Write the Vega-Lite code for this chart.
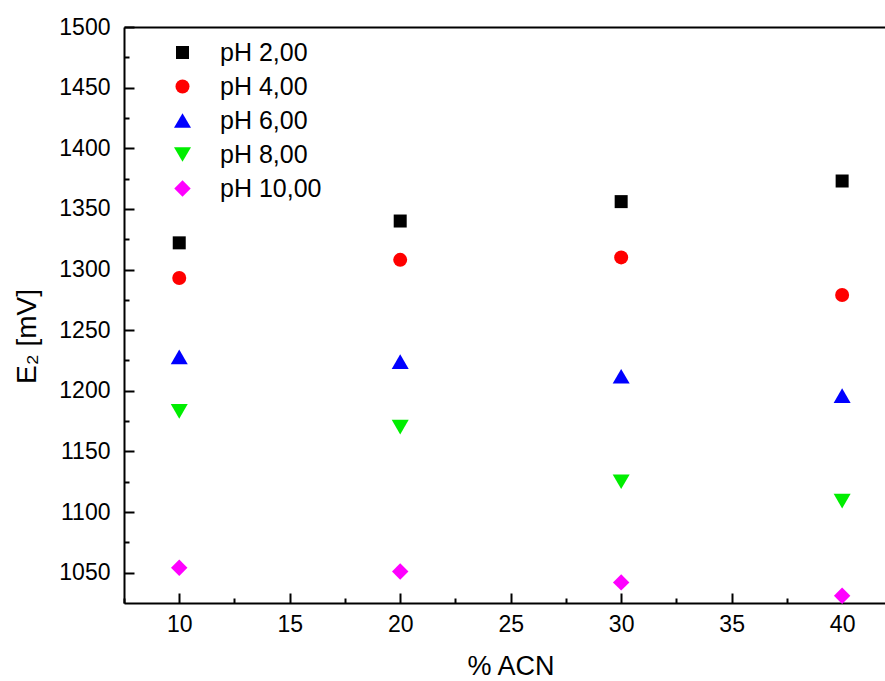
{
  "$schema": "https://vega.github.io/schema/vega-lite/v6.json",
  "width": 761,
  "height": 576,
  "autosize": {"type": "none"},
  "padding": {"left": 124, "top": 27, "right": 0, "bottom": 78},
  "config": {
    "font": "Liberation Sans",
    "view": {"stroke": null},
    "axis": {
      "domainColor": "black", "tickColor": "black", "labelColor": "black", "titleColor": "black",
      "labelFont": "Liberation Sans", "titleFont": "Liberation Sans", "grid": false,
      "labelFontSize": 23, "titleFontSize": 27, "titleFontWeight": "normal",
      "domainWidth": 2, "tickWidth": 2
    },
    "legend": {"labelFont": "Liberation Sans", "labelFontSize": 25, "labelColor": "black"}
  },
  "data": {"values": [
    {"acn": 10, "ph": "pH 2,00", "e2": 1322}, {"acn": 20, "ph": "pH 2,00", "e2": 1340}, {"acn": 30, "ph": "pH 2,00", "e2": 1356}, {"acn": 40, "ph": "pH 2,00", "e2": 1373},
    {"acn": 10, "ph": "pH 4,00", "e2": 1293}, {"acn": 20, "ph": "pH 4,00", "e2": 1308}, {"acn": 30, "ph": "pH 4,00", "e2": 1310}, {"acn": 40, "ph": "pH 4,00", "e2": 1279},
    {"acn": 10, "ph": "pH 6,00", "e2": 1228}, {"acn": 20, "ph": "pH 6,00", "e2": 1224}, {"acn": 30, "ph": "pH 6,00", "e2": 1212}, {"acn": 40, "ph": "pH 6,00", "e2": 1196},
    {"acn": 10, "ph": "pH 8,00", "e2": 1183}, {"acn": 20, "ph": "pH 8,00", "e2": 1170}, {"acn": 30, "ph": "pH 8,00", "e2": 1125}, {"acn": 40, "ph": "pH 8,00", "e2": 1109},
    {"acn": 10, "ph": "pH 10,00", "e2": 1054}, {"acn": 20, "ph": "pH 10,00", "e2": 1051}, {"acn": 30, "ph": "pH 10,00", "e2": 1042}, {"acn": 40, "ph": "pH 10,00", "e2": 1031}
  ]},
  "layer": [
    {
      "mark": {"type": "point", "filled": true, "opacity": 1},
      "encoding": {
        "x": {"field": "acn", "type": "quantitative", "scale": {"domain": [7.5, 41.94], "nice": false, "zero": false},
              "axis": {"orient": "bottom", "values": [10, 15, 20, 25, 30, 35, 40], "ticks": false, "labelPadding": 10, "title": "% ACN", "titleX": 386.5, "titleY": 71, "titleBaseline": "alphabetic", "titleAlign": "center"}},
        "y": {"field": "e2", "type": "quantitative", "scale": {"domain": [1025, 1500], "nice": false, "zero": false},
              "axis": {"orient": "left", "values": [1050, 1100, 1150, 1200, 1250, 1300, 1350, 1400, 1450, 1500], "format": "d", "ticks": false, "labelPadding": 14, "title": "E₂ [mV]", "titleFontSize": 28, "titleAngle": -90, "titleX": -97, "titleY": 309, "titleAlign": "center", "titleBaseline": "middle"}},
        "color": {"field": "ph", "type": "nominal",
                  "scale": {"domain": ["pH 2,00", "pH 4,00", "pH 6,00", "pH 8,00", "pH 10,00"], "range": ["#000000", "#ff0000", "#0000ff", "#00ee00", "#ff00ff"]},
                  "legend": {"title": null, "orient": "none", "legendX": 46, "legendY": 13, "padding": 0, "rowPadding": 8, "labelOffset": 25, "symbolStrokeWidth": 0}},
        "shape": {"field": "ph", "type": "nominal",
                  "scale": {"domain": ["pH 2,00", "pH 4,00", "pH 6,00", "pH 8,00", "pH 10,00"], "range": ["square", "circle", "triangle-up", "triangle-down", "diamond"]}},
        "size": {"field": "ph", "type": "nominal",
                  "scale": {"type": "ordinal", "domain": ["pH 2,00", "pH 4,00", "pH 6,00", "pH 8,00", "pH 10,00"], "range": [169, 196, 289, 289, 270]}}
      }
    },
    {
      "mark": {"type": "point", "opacity": 0},
      "encoding": {
        "x": {"field": "acn", "type": "quantitative", "axis": {"orient": "bottom", "values": [10, 15, 20, 25, 30, 35, 40], "labels": false, "domain": false, "tickSize": -10, "title": null}},
        "y": {"field": "e2", "type": "quantitative", "axis": {"orient": "left", "values": [1050, 1100, 1150, 1200, 1250, 1300, 1350, 1400, 1450, 1500], "labels": false, "domain": false, "tickSize": -10, "title": null}}
      }
    },
    {
      "mark": {"type": "point", "opacity": 0},
      "encoding": {
        "x": {"field": "acn", "type": "quantitative", "axis": {"orient": "bottom", "values": [7.5, 12.5, 17.5, 22.5, 27.5, 32.5, 37.5], "labels": false, "domain": false, "tickSize": -5, "title": null}},
        "y": {"field": "e2", "type": "quantitative", "axis": {"orient": "left", "values": [1075, 1125, 1175, 1225, 1275, 1325, 1375, 1425, 1475], "labels": false, "domain": false, "tickSize": -5, "title": null}}
      }
    },
    {
      "mark": {"type": "point", "opacity": 0},
      "encoding": {
        "x": {"field": "acn", "type": "quantitative", "axis": {"orient": "top", "labels": false, "ticks": false, "domain": true, "title": null}},
        "y": {"field": "e2", "type": "quantitative", "axis": null}
      }
    }
  ],
  "resolve": {"axis": {"x": "independent", "y": "independent"}}
}
